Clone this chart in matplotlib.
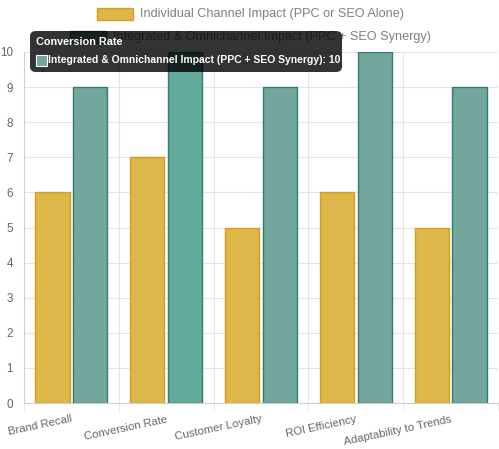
import matplotlib.pyplot as plt
from matplotlib.patches import FancyBboxPatch, Rectangle
import numpy as np

categories = ["Brand Recall", "Conversion Rate", "Customer Loyalty", "ROI Efficiency", "Adaptability to Trends"]
individual = [6, 7, 5, 6, 5]
integrated = [9, 10, 9, 10, 9]
series_names = ["Individual Channel Impact (PPC or SEO Alone)",
                "Integrated & Omnichannel Impact (PPC + SEO Synergy)"]
hover_index = 1

plt.rcParams['font.family'] = ['Liberation Sans', 'DejaVu Sans']
grey = "#666666"
yellow_fill = "#ddb74a"
yellow_edge = "#d4a017"
teal_fill = "#73a79e"
teal_hover = "#62a99c"
teal_edge = "#2e7d6e"

fig = plt.figure(figsize=(4.99, 4.49), dpi=100)
W, H = 499, 449
ax = fig.add_axes([24 / W, 1 - 403 / H, (498 - 24) / W, (403 - 52) / H])

x = np.arange(len(categories))
bw = 0.36
ax.bar(x - bw / 2 - 0.02, individual, bw, color=yellow_fill, edgecolor=yellow_edge, linewidth=1, zorder=3)
teal_colors = [teal_hover if i == hover_index else teal_fill for i in range(len(categories))]
ax.bar(x + bw / 2 + 0.02, integrated, bw, color=teal_colors, edgecolor=teal_edge, linewidth=1, zorder=3)

ax.set_xlim(-0.5, len(categories) - 0.5)
ax.set_ylim(0, 10)
ax.set_yticks(range(0, 11))
ax.set_xticks(np.arange(-0.5, len(categories), 1), minor=True)
ax.set_xticks(x)
ax.set_xticklabels(categories, rotation=12, ha='right', va='top', rotation_mode='anchor',
                   color=grey, fontsize=8.2)
ax.tick_params(axis='y', colors=grey, labelsize=8.4, length=0, pad=8)
ax.tick_params(axis='x', which='major', length=0, pad=8)
ax.tick_params(axis='x', which='minor', length=6, color="#e5e5e5")
ax.grid(True, axis='y', color="#e5e5e5", linewidth=0.8, zorder=0)
ax.grid(True, axis='x', which='minor', color="#e5e5e5", linewidth=0.8, zorder=0)
for s in ["top", "right"]:
    ax.spines[s].set_visible(False)
for s in ["left", "bottom"]:
    ax.spines[s].set_color("#d0d0d0")

# legend drawn in pixel coords, two centred rows
legend_rows = [(97, 14, yellow_fill, yellow_edge, series_names[0]),
               (70, 37, teal_fill, teal_edge, series_names[1])]
for bx, cy, fc, ec, label in legend_rows:
    fig.patches.append(Rectangle((bx / W, 1 - (cy + 6) / H), 36 / W, 12 / H,
                                 facecolor=fc, edgecolor=ec, linewidth=1,
                                 transform=fig.transFigure, figure=fig))
    fig.text((bx + 43) / W, 1 - cy / H, label, color="#808080", fontsize=9.1, va='center', ha='left')

# tooltip for hovered bar
tip = FancyBboxPatch((30 / W, 1 - 72 / H), 312 / W, 41 / H,
                     boxstyle="round,pad=0,rounding_size=0.012",
                     facecolor=(0, 0, 0, 0.8), edgecolor='none',
                     transform=fig.transFigure, figure=fig, zorder=10)
fig.patches.append(tip)
fig.text(36 / W, 1 - 42 / H, categories[hover_index], color='white', fontsize=7.8,
         fontweight='bold', va='center', ha='left', zorder=11)
fig.patches.append(Rectangle((36 / W, 1 - 66 / H), 11 / W, 11 / H, facecolor=teal_fill,
                             edgecolor='white', linewidth=0.8,
                             transform=fig.transFigure, figure=fig, zorder=11))
fig.text(48 / W, 1 - 60 / H, f"{series_names[1]}: {integrated[hover_index]}", color='white',
         fontsize=7.5, fontweight='bold', va='center', ha='left', zorder=11)

fig.savefig("out.png", dpi=100)
